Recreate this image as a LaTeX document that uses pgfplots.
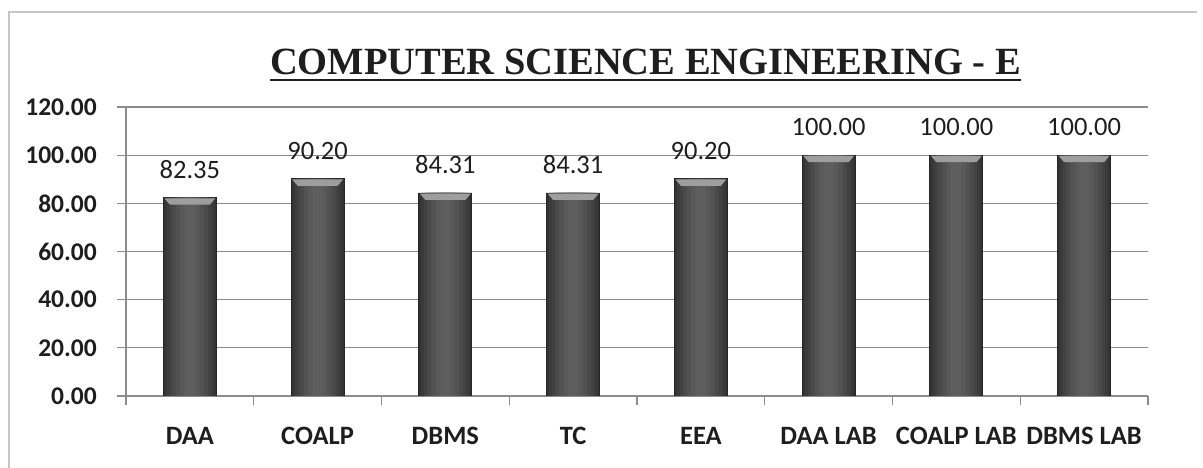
\documentclass[border=0pt]{standalone}
\usepackage{fontspec}
\setmainfont{Carlito}
\newfontfamily\titlefont{Liberation Serif}
\usepackage{pgfplots}
\pgfplotsset{compat=1.18}
\definecolor{gridgray}{HTML}{8C8C8C}
\definecolor{txt}{HTML}{1E1E1E}
\pgfplotstableread{
x y
0 82.35
1 90.20
2 84.31
3 84.31
4 90.20
5 100.00
6 100.00
7 100.00
}\scores
\pgfdeclareplotmark{bevel}{%
  \pgfpathmoveto{\pgfpoint{-25.5pt}{-0.6pt}}%
  \pgfpathlineto{\pgfpoint{25.5pt}{-0.6pt}}%
  \pgfpathlineto{\pgfpoint{20pt}{-7pt}}%
  \pgfpathlineto{\pgfpoint{-20pt}{-7pt}}%
  \pgfpathclose
  \pgfusepathqfill}
\begin{document}
\begin{tikzpicture}
\path[use as bounding box] (0pt,0pt) rectangle (1203pt,468pt);
\draw[gray!45, line width=1.5pt] (9pt,0pt) -- (9pt,456pt) -- (1197pt,456pt);
\node[font=\titlefont\bfseries\fontsize{38.5}{40}\selectfont, anchor=base, inner sep=0pt, text=txt] (t) at (645.5pt,393pt) {COMPUTER SCIENCE ENGINEERING - E};
\draw[line width=2.5pt, txt] ([yshift=-5pt]t.base west) -- ([yshift=-5pt]t.base east);
\begin{axis}[
  at={(126pt,72pt)}, anchor=south west,
  scale only axis, width=1022pt, height=289pt,
  xmin=-0.5, xmax=7.5, ymin=0, ymax=120,
  /pgf/number format/assume math mode=true,
  axis x line*=bottom, axis y line*=left,
  axis line style={gridgray, line width=1.2pt, -},
  ytick={0,20,...,120},
  ymajorgrids, grid style={gridgray, line width=1.2pt},
  tick align=outside, major tick length=9pt,
  tick style={gridgray, line width=1.2pt},
  yticklabel={\pgfmathprintnumber[fixed,fixed zerofill,precision=2]{\tick}},
  yticklabel style={font=\bfseries\fontsize{25.5}{30}\selectfont, text=txt, inner sep=0pt, xshift=-20pt},
  scaled y ticks=false,
  xtick={-0.5,0.5,...,7.5}, xticklabels={},
  extra x ticks={0,1,...,7},
  extra x tick labels={DAA,COALP,DBMS,TC,EEA,DAA LAB,COALP LAB,DBMS LAB},
  extra x tick style={major tick length=0pt, grid=none},
  xticklabel style={font=\bfseries\fontsize{26.5}{30}\selectfont, text=txt, inner sep=0pt, yshift=-31pt},
]
\addplot[ybar, bar width=0.415, draw=black!85, line width=0.8pt, fill=black!80] table[x=x,y=y] {\scores};
\addplot[ybar, bar width=0.375, draw=none, fill=black!77] table[x=x,y=y] {\scores};
\addplot[ybar, bar width=0.33, draw=none, fill=black!74] table[x=x,y=y] {\scores};
\addplot[ybar, bar width=0.28, draw=none, fill=black!71] table[x=x,y=y] {\scores};
\addplot[ybar, bar width=0.22, draw=none, fill=black!68] table[x=x,y=y] {\scores};
\addplot[ybar, bar width=0.15, draw=none, fill=black!65] table[x=x,y=y] {\scores};
\addplot[ybar, bar width=0.08, draw=none, fill=black!63,
  nodes near coords={\pgfmathprintnumber[fixed,fixed zerofill,precision=2]{\pgfplotspointmeta}},
  every node near coord/.append style={font=\fontsize{26.5}{30}\selectfont, text=txt, anchor=south, inner sep=0pt, yshift=19pt}] table[x=x,y=y] {\scores};
\addplot[only marks, mark=bevel, mark options={fill=black!38, draw=none}] table[x=x,y=y] {\scores};
\end{axis}
\end{tikzpicture}
\end{document}
